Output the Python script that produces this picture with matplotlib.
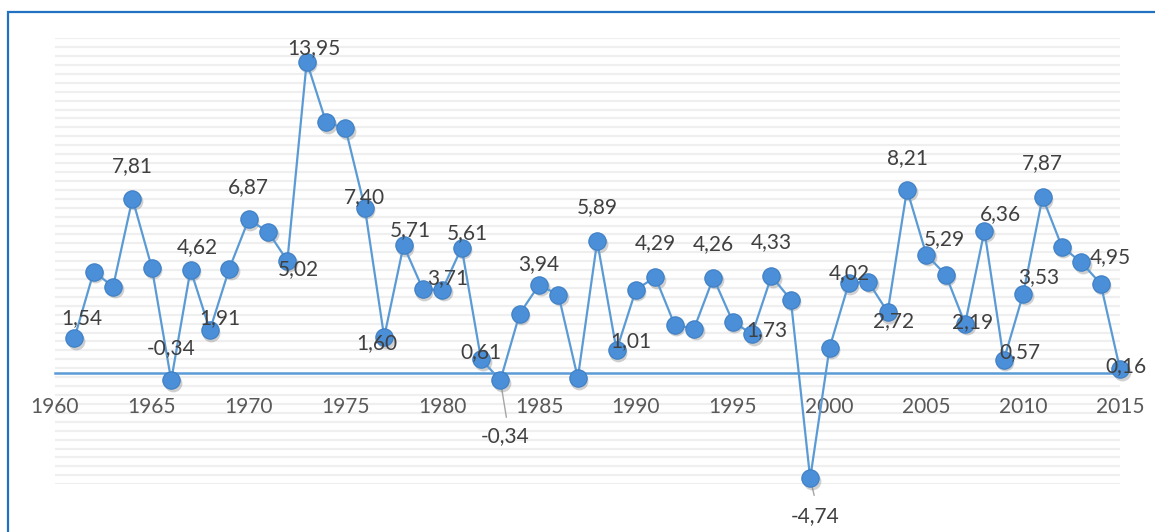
import numpy as np
import matplotlib
matplotlib.use("Agg")
import matplotlib.pyplot as plt
import matplotlib.transforms as mtransforms
from matplotlib.patches import Rectangle

plt.rcParams["font.family"] = ["Lato", "DejaVu Sans"]

# Annual growth rate, 1961-2015
years = list(range(1961, 2016))
growth = [
    1.54, 4.53, 3.86, 7.81, 4.71, -0.34, 4.62, 1.91, 4.66, 6.87,
    6.32, 5.02, 13.95, 11.23, 10.96, 7.40, 1.60, 5.71, 3.74, 3.71,
    5.61, 0.61, -0.34, 2.65, 3.94, 3.49, -0.24, 5.89, 1.01, 3.72,
    4.29, 2.15, 1.97, 4.26, 2.29, 1.73, 4.33, 3.27, -4.74, 1.12,
    4.02, 4.08, 2.72, 8.21, 5.29, 4.39, 2.19, 6.36, 0.57, 3.53,
    7.87, 5.65, 4.95, 3.99, 0.16,
]

# Years that carry a value label
labeled_years = [1961, 1964, 1966, 1967, 1968, 1970, 1972, 1973, 1976, 1977,
                 1978, 1980, 1981, 1982, 1983, 1985, 1988, 1989, 1991, 1994,
                 1996, 1997, 1999, 2001, 2003, 2004, 2005, 2007, 2008, 2009,
                 2010, 2011, 2013, 2015]

x_ticks = list(range(1960, 2016, 5))

# Label placement (pixel offsets from the marker centre)
label_offsets = {
    1961: (7, 20), 1964: (0, 32), 1966: (0, 32), 1967: (7, 23), 1968: (10, 12),
    1970: (0, 32), 1972: (11, -8), 1973: (7, 14), 1976: (0, 11), 1977: (-7, -6),
    1978: (7, 15), 1980: (5, 12), 1981: (6, 15), 1982: (0, 7), 1983: (5, -56),
    1985: (0, 21), 1988: (0, 34), 1989: (14, 9), 1991: (0, 34), 1994: (0, 34),
    1996: (15, 4), 1997: (0, 34), 1999: (5, -38), 2001: (0, 10), 2003: (6, -9),
    2004: (0, 32), 2005: (18, 16), 2007: (7, 2), 2008: (16, 17), 2009: (16, 8),
    2010: (16, 17), 2011: (0, 34), 2013: (29, 5), 2015: (6, 3),
}
# Leader lines end (pixel offsets from the marker centre)
leader_ends = {1983: (6, -37), 1999: (4, -17)}

W, H = 1155, 532
fig = plt.figure(figsize=(W / 100, H / 100), dpi=100)
ax = fig.add_axes([55 / W, (H - 484.2) / H, 1065 / W, 446 / H])

line_color = "#5B9BD5"
marker_face = "#4A8FD7"
marker_edge = "#3E7FC4"
text_size = 15

ax.set_xlim(1960, 2015)
ax.set_ylim(-5, 15)

# Horizontal gridlines every 0.4
grid_levels = np.round(np.arange(-5, 15.001, 0.4), 2)
ax.hlines(grid_levels, 1960, 2015, colors="#EFEFEF", linewidth=1.6, zorder=0.3)
ax.set_yticks([])

# Zero line doubles as the category axis
for side in ("left", "right", "top"):
    ax.spines[side].set_visible(False)
ax.spines["bottom"].set_position(("data", 0))
ax.spines["bottom"].set_color(line_color)
ax.spines["bottom"].set_linewidth(1.8)
ax.set_xticks(x_ticks)
ax.set_xticklabels([str(t) for t in x_ticks])
ax.tick_params(axis="x", length=0, pad=17.5, labelsize=text_size,
               labelcolor="#595959")

# Marker shadows
shadow_tr = mtransforms.offset_copy(ax.transData, fig=fig, x=1.5, y=-2.5, units="dots")
ax.plot(years, growth, linestyle="none", marker="o", markersize=12.8,
        color="#7a7a7a", alpha=0.35, markeredgewidth=0, transform=shadow_tr,
        clip_on=False, zorder=2)

ax.plot(years, growth, color=line_color, linewidth=1.6, marker="o",
        markersize=12.5, markerfacecolor=marker_face, markeredgecolor=marker_edge,
        markeredgewidth=0.8, clip_on=False, zorder=3)

value_by_year = dict(zip(years, growth))

for yr, (ex, ey) in leader_ends.items():
    ax.annotate("", xy=(yr, value_by_year[yr]), xytext=(ex, ey),
                textcoords="offset pixels",
                arrowprops=dict(arrowstyle="-", color="#A6A6A6", lw=1.0,
                                shrinkA=0, shrinkB=0),
                zorder=1.5, annotation_clip=False)

for yr in labeled_years:
    v = value_by_year[yr]
    dx, dy = label_offsets[yr]
    ax.annotate(f"{v:.2f}".replace(".", ","), xy=(yr, v), xytext=(dx, dy),
                textcoords="offset pixels", ha="center", va="center",
                fontsize=text_size, color="#404040", zorder=5,
                annotation_clip=False)

# Chart frame
fig.patches.append(Rectangle((7.5 / W, -0.1), 2.0, (H - 12) / H + 0.1,
                             transform=fig.transFigure, fill=False,
                             edgecolor="#2172C2", linewidth=1.6))

fig.savefig("out.png", dpi=100, facecolor="white")
